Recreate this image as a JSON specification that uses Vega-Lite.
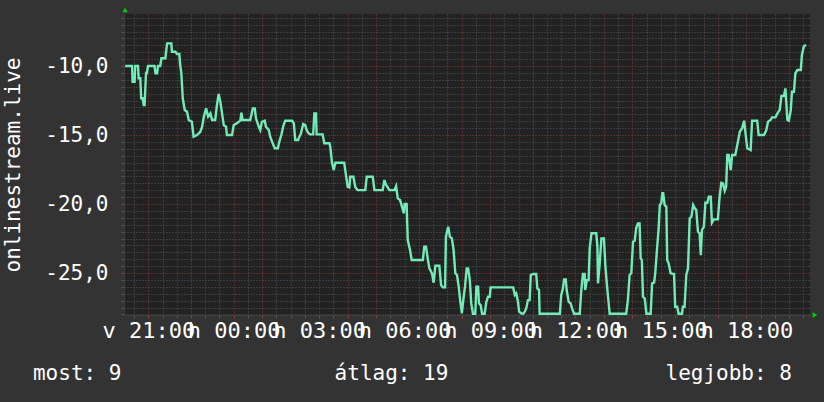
{
  "$schema": "https://vega.github.io/schema/vega-lite/v6.json",
  "width": 686,
  "height": 301,
  "autosize": "none",
  "padding": {"left": 124, "top": 14, "right": 14, "bottom": 87},
  "background": "#333333",
  "config": {
    "view": {"fill": "#222222", "stroke": null},
    "axis": {"labelFont": "DejaVu Sans Mono", "titleFont": "DejaVu Sans Mono", "labelColor": "#ffffff", "titleColor": "#ffffff"}
  },
  "datasets": {
    "series": [
      {"t":-0.81,"v":-10},{"t":-0.57,"v":-10},{"t":-0.55,"v":-11.14},{"t":-0.48,"v":-11.14},{"t":-0.46,"v":-10},{"t":-0.36,"v":-10},{"t":-0.34,"v":-10.89},{"t":-0.28,"v":-10.89},{"t":-0.25,"v":-12.34},{"t":-0.2,"v":-12.34},{"t":-0.16,"v":-12.83},{"t":-0.13,"v":-12.83},{"t":-0.08,"v":-10.51},{"t":-0.05,"v":-10.51},{"t":-0.01,"v":-10},{"t":0.22,"v":-10},{"t":0.25,"v":-10.53},{"t":0.31,"v":-10.53},{"t":0.34,"v":-10},{"t":0.42,"v":-10},{"t":0.46,"v":-9.44},{"t":0.6,"v":-9.44},{"t":0.66,"v":-8.36},{"t":0.81,"v":-8.36},{"t":0.83,"v":-8.96},{"t":0.95,"v":-8.96},{"t":1.01,"v":-9.13},{"t":1.09,"v":-9.13},{"t":1.12,"v":-9.93},{"t":1.16,"v":-10.51},{"t":1.21,"v":-12.34},{"t":1.28,"v":-13.19},{"t":1.36,"v":-13.31},{"t":1.42,"v":-13.91},{"t":1.53,"v":-14.04},{"t":1.59,"v":-15.12},{"t":1.71,"v":-15.0},{"t":1.83,"v":-14.76},{"t":1.89,"v":-14.4},{"t":1.95,"v":-13.67},{"t":2.03,"v":-13.07},{"t":2.1,"v":-13.67},{"t":2.18,"v":-13.43},{"t":2.24,"v":-13.91},{"t":2.35,"v":-13.91},{"t":2.41,"v":-12.83},{"t":2.47,"v":-12.03},{"t":2.53,"v":-12.59},{"t":2.59,"v":-13.43},{"t":2.65,"v":-14.28},{"t":2.73,"v":-14.4},{"t":2.76,"v":-15.0},{"t":2.94,"v":-15.0},{"t":3.0,"v":-14.28},{"t":3.11,"v":-14.15},{"t":3.23,"v":-13.96},{"t":3.27,"v":-13.38},{"t":3.31,"v":-13.91},{"t":3.58,"v":-13.91},{"t":3.67,"v":-13.07},{"t":3.74,"v":-13.07},{"t":3.78,"v":-13.79},{"t":3.88,"v":-14.4},{"t":3.93,"v":-14.64},{"t":3.99,"v":-14.04},{"t":4.09,"v":-13.96},{"t":4.13,"v":-14.4},{"t":4.23,"v":-14.64},{"t":4.28,"v":-15.12},{"t":4.37,"v":-15.6},{"t":4.44,"v":-15.96},{"t":4.55,"v":-15.96},{"t":4.6,"v":-15.49},{"t":4.67,"v":-15.0},{"t":4.75,"v":-14.28},{"t":4.81,"v":-13.96},{"t":5.05,"v":-13.96},{"t":5.11,"v":-14.15},{"t":5.16,"v":-15.36},{"t":5.26,"v":-15.36},
      {"t":5.28,"v":-15.24},{"t":5.36,"v":-14.88},{"t":5.44,"v":-14.2},{"t":5.51,"v":-14.28},{"t":5.56,"v":-14.64},{"t":5.63,"v":-14.88},{"t":5.68,"v":-14.95},{"t":5.79,"v":-14.95},{"t":5.83,"v":-13.43},{"t":5.89,"v":-13.43},{"t":5.91,"v":-14.95},{"t":6.12,"v":-14.95},{"t":6.18,"v":-15.6},{"t":6.36,"v":-15.6},{"t":6.39,"v":-15.85},{"t":6.45,"v":-17.01},{"t":6.51,"v":-17.54},{"t":6.57,"v":-17.01},{"t":6.88,"v":-17.01},{"t":6.94,"v":-17.9},{"t":7.0,"v":-18.75},{"t":7.06,"v":-18.79},{"t":7.09,"v":-18.02},{"t":7.2,"v":-18.02},{"t":7.27,"v":-18.79},{"t":7.35,"v":-18.99},{"t":7.62,"v":-18.99},{"t":7.67,"v":-18.02},{"t":7.88,"v":-18.02},{"t":7.94,"v":-18.99},{"t":8.23,"v":-18.99},{"t":8.29,"v":-18.26},{"t":8.35,"v":-18.62},{"t":8.41,"v":-18.79},{"t":8.46,"v":-18.99},{"t":8.64,"v":-18.99},{"t":8.7,"v":-18.7},{"t":8.76,"v":-19.59},{"t":8.84,"v":-19.71},{"t":8.91,"v":-20.2},{"t":8.97,"v":-20.67},{"t":9.0,"v":-20.0},{"t":9.07,"v":-20.0},{"t":9.11,"v":-22.61},{"t":9.19,"v":-23.33},{"t":9.25,"v":-24.06},{"t":9.64,"v":-24.06},{"t":9.69,"v":-23.09},{"t":9.75,"v":-23.09},{"t":9.81,"v":-23.93},{"t":9.87,"v":-24.66},{"t":9.96,"v":-25.02},{"t":10.02,"v":-25.7},{"t":10.08,"v":-24.47},{"t":10.22,"v":-24.47},{"t":10.28,"v":-25.87},{"t":10.34,"v":-26.04},{"t":10.42,"v":-26.04},{"t":10.45,"v":-22.37},{"t":10.53,"v":-21.64},{"t":10.59,"v":-22.37},{"t":10.66,"v":-22.49},{"t":10.72,"v":-23.33},{"t":10.78,"v":-25.02},{"t":10.84,"v":-25.14},{"t":10.9,"v":-25.99},{"t":10.95,"v":-26.96},{"t":11.01,"v":-27.92},{"t":11.06,"v":-26.96},{"t":11.12,"v":-25.99},{"t":11.18,"v":-24.66},
      {"t":11.23,"v":-24.66},{"t":11.29,"v":-25.51},{"t":11.34,"v":-27.2},{"t":11.4,"v":-27.95},{"t":11.48,"v":-27.95},{"t":11.52,"v":-25.99},{"t":11.58,"v":-25.99},{"t":11.61,"v":-27.2},{"t":11.67,"v":-27.32},{"t":11.72,"v":-27.95},{"t":11.81,"v":-27.95},{"t":11.87,"v":-27.08},{"t":11.93,"v":-26.72},{"t":11.99,"v":-26.72},{"t":12.02,"v":-26.04},{"t":12.81,"v":-26.04},{"t":12.87,"v":-26.59},{"t":12.92,"v":-26.47},{"t":12.98,"v":-27.08},{"t":13.02,"v":-27.8},{"t":13.1,"v":-27.92},{"t":13.16,"v":-27.95},{"t":13.22,"v":-27.8},{"t":13.27,"v":-27.56},{"t":13.33,"v":-26.96},{"t":13.39,"v":-26.96},{"t":13.43,"v":-25.14},{"t":13.51,"v":-25.07},{"t":13.62,"v":-25.07},{"t":13.66,"v":-26.11},{"t":13.72,"v":-26.23},{"t":13.74,"v":-27.95},{"t":14.45,"v":-27.95},{"t":14.5,"v":-26.59},{"t":14.56,"v":-26.11},{"t":14.6,"v":-25.46},{"t":14.66,"v":-25.46},{"t":14.69,"v":-26.23},{"t":14.76,"v":-27.08},{"t":14.83,"v":-27.2},{"t":14.88,"v":-27.56},{"t":14.95,"v":-27.95},{"t":15.15,"v":-27.95},{"t":15.2,"v":-26.35},{"t":15.26,"v":-25.07},{"t":15.32,"v":-25.07},{"t":15.34,"v":-26.23},{"t":15.4,"v":-25.51},{"t":15.46,"v":-25.51},{"t":15.5,"v":-23.21},{"t":15.56,"v":-22.12},{"t":15.73,"v":-22.12},{"t":15.77,"v":-23.09},{"t":15.79,"v":-25.75},{"t":15.85,"v":-24.3},{"t":15.91,"v":-22.49},{"t":16.0,"v":-22.49},{"t":16.05,"v":-24.54},{"t":16.12,"v":-26.23},{"t":16.2,"v":-27.95},{"t":16.78,"v":-27.95},{"t":16.84,"v":-26.96},{"t":16.9,"v":-25.14},{"t":16.96,"v":-25.02},{"t":17.02,"v":-22.73},{"t":17.08,"v":-22.66},{"t":17.13,"v":-21.76},{"t":17.19,"v":-21.4},
      {"t":17.25,"v":-21.4},{"t":17.29,"v":-23.93},{"t":17.33,"v":-24.06},{"t":17.37,"v":-26.72},{"t":17.43,"v":-26.83},{"t":17.49,"v":-27.95},{"t":17.64,"v":-27.95},{"t":17.69,"v":-25.75},{"t":17.76,"v":-25.7},{"t":17.8,"v":-25.02},{"t":17.86,"v":-23.33},{"t":17.92,"v":-21.76},{"t":17.96,"v":-20.07},{"t":18.01,"v":-19.95},{"t":18.05,"v":-19.22},{"t":18.08,"v":-19.22},{"t":18.13,"v":-20.07},{"t":18.19,"v":-20.2},{"t":18.22,"v":-24.06},{"t":18.27,"v":-24.3},{"t":18.34,"v":-25.02},{"t":18.46,"v":-25.07},{"t":18.5,"v":-27.44},{"t":18.57,"v":-27.44},{"t":18.62,"v":-27.95},{"t":18.74,"v":-27.95},{"t":18.77,"v":-27.44},{"t":18.83,"v":-27.44},{"t":18.89,"v":-25.14},{"t":18.95,"v":-24.66},{"t":19.01,"v":-21.04},{"t":19.07,"v":-20.92},{"t":19.13,"v":-20.07},{"t":19.19,"v":-20.31},{"t":19.24,"v":-20.43},{"t":19.3,"v":-22.01},{"t":19.36,"v":-22.12},{"t":19.4,"v":-23.7},{"t":19.44,"v":-21.88},{"t":19.51,"v":-21.64},{"t":19.56,"v":-19.91},{"t":19.63,"v":-19.91},{"t":19.68,"v":-19.47},{"t":19.75,"v":-19.47},{"t":19.79,"v":-21.35},{"t":19.86,"v":-21.11},{"t":20.0,"v":-21.11},{"t":20.06,"v":-19.47},{"t":20.12,"v":-18.46},{"t":20.18,"v":-18.5},{"t":20.24,"v":-19.04},{"t":20.29,"v":-18.75},{"t":20.33,"v":-16.45},{"t":20.38,"v":-16.45},{"t":20.45,"v":-17.54},{"t":20.5,"v":-16.45},{"t":20.61,"v":-16.45},{"t":20.68,"v":-15.72},{"t":20.77,"v":-14.76},{"t":20.85,"v":-14.51},{"t":20.92,"v":-13.96},{"t":20.96,"v":-14.69},{"t":21.03,"v":-15.96},{"t":21.15,"v":-16.09},{"t":21.2,"v":-13.96},{"t":21.38,"v":-13.96},{"t":21.43,"v":-15.0},{"t":21.62,"v":-15.0},{"t":21.7,"v":-14.64},{"t":21.76,"v":-14.04},{"t":21.85,"v":-13.91},{"t":21.9,"v":-13.72},{"t":22.02,"v":-13.72},{"t":22.09,"v":-13.43},{"t":22.17,"v":-13.19},{"t":22.23,"v":-12.17},{"t":22.32,"v":-12.17},{"t":22.37,"v":-11.62},{"t":22.44,"v":-13.91},{"t":22.49,"v":-13.96},{"t":22.56,"v":-13.19},{"t":22.6,"v":-11.86},{"t":22.67,"v":-11.86},{"t":22.72,"v":-10.53},{"t":22.79,"v":-10.29},{"t":22.91,"v":-10.29},{"t":22.95,"v":-9.2},{"t":23.02,"v":-8.55},{"t":23.1,"v":-8.48}
    ]
  },
  "layer": [
    {
      "data": {"name": "series"},
      "mark": {"type": "line", "strokeOpacity": 0},
      "encoding": {
        "x": {"field": "t", "type": "quantitative",
          "scale": {"domain": [-0.853, 23.234], "nice": false, "zero": false},
          "axis": {"orient": "bottom", "values": [-0.5,0.5,1.5,2.5,3.5,4.5,5.5,6.5,7.5,8.5,9.5,10.5,11.5,12.5,13.5,14.5,15.5,16.5,17.5,18.5,19.5,20.5,21.5,22.5],
            "grid": true, "gridColor": "#575757", "gridDash": [1, 2], "gridWidth": 1, "labels": false, "ticks": true, "tickColor": "#575757", "tickSize": 3, "domain": false, "title": null}},
        "y": {"field": "v", "type": "quantitative",
          "scale": {"domain": [-28.04, -6.23], "nice": false, "zero": false},
          "axis": {"orient": "left", "values": [-28,-27.5,-27,-26.5,-26,-25.5,-24.5,-24,-23.5,-23,-22.5,-22,-21.5,-21,-20.5,-19.5,-19,-18.5,-18,-17.5,-17,-16.5,-16,-15.5,-14.5,-14,-13.5,-13,-12.5,-12,-11.5,-11,-10.5,-9.5,-9,-8.5,-8,-7.5,-7,-6.5],
            "grid": true, "gridColor": "#575757", "gridDash": [1, 2], "gridWidth": 1, "labels": false, "ticks": true, "tickColor": "#575757", "tickSize": 3, "domain": false, "title": null}}
      }
    },
    {
      "data": {"name": "series"},
      "mark": {"type": "line", "strokeOpacity": 0},
      "encoding": {
        "x": {"field": "t", "type": "quantitative",
          "axis": {"orient": "bottom", "values": [0,1,2,3,4,5,6,7,8,9,10,11,12,13,14,15,16,17,18,19,20,21,22,23],
            "grid": true, "gridColor": "#8a3535", "gridDash": [1, 2], "gridWidth": 1, "labels": false, "ticks": true, "tickColor": "#9a3a3a", "tickSize": 3, "domain": false, "title": null}},
        "y": {"field": "v", "type": "quantitative",
          "axis": {"orient": "left", "values": [-25, -20, -15, -10],
            "grid": true, "gridColor": "#8a3535", "gridDash": [1, 2], "gridWidth": 1, "labels": false, "ticks": true, "tickColor": "#9a3a3a", "tickSize": 3, "domain": false, "title": null}}
      }
    },
    {
      "data": {"name": "series"},
      "mark": {"type": "line", "color": "#72ebb6", "strokeWidth": 2.4, "clip": true, "interpolate": "linear"},
      "encoding": {
        "x": {"field": "t", "type": "quantitative",
          "axis": {"orient": "bottom", "values": [0, 3, 6, 9, 12, 15, 18, 21],
            "labelExpr": "datum.value < 1 ? 'v 21:00' : 'h ' + (datum.value - 3 < 10 ? '0' : '') + (datum.value - 3) + ':00'",
            "grid": false, "ticks": false, "tickSize": 0, "domain": true, "domainColor": "#3e3e3e", "labelFontSize": 22, "labelPadding": 5, "labelOverlap": false, "labelBound": false, "labelFlush": false, "title": null}},
        "y": {"field": "v", "type": "quantitative",
          "axis": {"orient": "left", "values": [-25, -20, -15, -10],
            "labelExpr": "'-' + replace(format(abs(datum.value), '.1f'), '.', ',')",
            "grid": false, "ticks": false, "tickSize": 0, "domain": true, "domainColor": "#3e3e3e", "labelFontSize": 21, "labelPadding": 16, "labelOverlap": false, "labelBound": false,
            "title": "onlinestream.live", "titleFontSize": 21, "titleFontWeight": "normal", "titlePadding": 21}}
      }
    },
    {
      "data": {"values": [{"label": "most: 9"}]},
      "mark": {"type": "text", "align": "left", "baseline": "middle", "font": "DejaVu Sans Mono", "fontSize": 21, "color": "#ffffff"},
      "encoding": {
        "x": {"datum": -4.05, "type": "quantitative", "axis": null},
        "y": {"datum": -32.32, "type": "quantitative", "axis": null},
        "text": {"field": "label"}
      }
    },
    {
      "data": {"values": [{"label": "átlag: 19"}]},
      "mark": {"type": "text", "align": "center", "baseline": "middle", "font": "DejaVu Sans Mono", "fontSize": 21, "color": "#ffffff"},
      "encoding": {
        "x": {"datum": 8.54, "type": "quantitative", "axis": null},
        "y": {"datum": -32.32, "type": "quantitative", "axis": null},
        "text": {"field": "label"}
      }
    },
    {
      "data": {"values": [{"label": "legjobb: 8"}]},
      "mark": {"type": "text", "align": "right", "baseline": "middle", "font": "DejaVu Sans Mono", "fontSize": 21, "color": "#ffffff"},
      "encoding": {
        "x": {"datum": 22.6, "type": "quantitative", "axis": null},
        "y": {"datum": -32.32, "type": "quantitative", "axis": null},
        "text": {"field": "label"}
      }
    },
    {
      "data": {"values": [{"arrow": "y"}]},
      "mark": {"type": "point", "shape": "triangle-up", "filled": true, "size": 30, "color": "#00d000", "opacity": 1},
      "encoding": {
        "x": {"datum": -0.818, "type": "quantitative", "axis": null},
        "y": {"datum": -5.94, "type": "quantitative", "axis": null}
      }
    },
    {
      "data": {"values": [{"arrow": "x"}]},
      "mark": {"type": "point", "shape": "triangle-right", "filled": true, "size": 30, "color": "#00d000", "opacity": 1},
      "encoding": {
        "x": {"datum": 23.41, "type": "quantitative", "axis": null},
        "y": {"datum": -28.04, "type": "quantitative", "axis": null}
      }
    }
  ],
  "resolve": {"axis": {"x": "independent", "y": "independent"}}
}
